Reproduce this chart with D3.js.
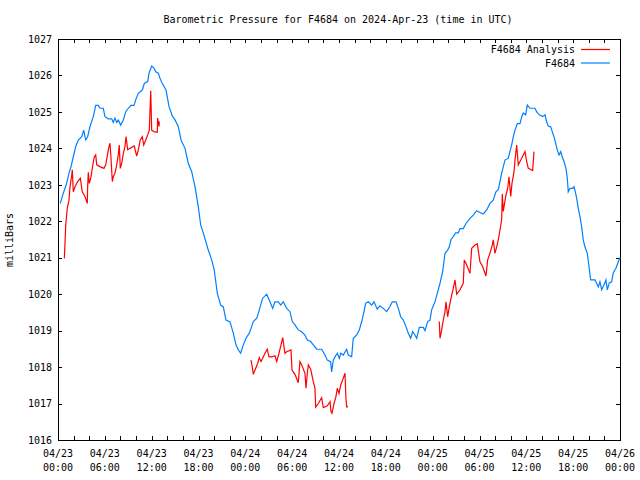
<!DOCTYPE html>
<html>
<head>
<meta charset="utf-8">
<script src="https://cdn.jsdelivr.net/npm/d3@7"></script>
<style>
  html, body { margin: 0; padding: 0; background: #fff; }
  svg { display: block; }
  text { font-family: "DejaVu Sans Mono", "Liberation Mono", monospace; font-size: 10px; fill: #000; }
</style>
</head>
<body>
<svg id="chart" width="640" height="480"></svg>
<script>
// ---- Data (hours since 2024-04-23 00:00 UTC, pressure in mbar) ----
const titleText = "Barometric Pressure for F4684 on 2024-Apr-23 (time in UTC)";
const yLabel = "milliBars";
const seriesNames = ["F4684 Analysis", "F4684"];
const yTicks = [1016,1017,1018,1019,1020,1021,1022,1023,1024,1025,1026,1027];
const xLabelDates = ["04/23","04/23","04/23","04/23","04/24","04/24","04/24","04/24","04/25","04/25","04/25","04/25","04/26"];
const xLabelTimes = ["00:00","06:00","12:00","18:00","00:00","06:00","12:00","18:00","00:00","06:00","12:00","18:00","00:00"];

const blueHours = [0.29,0.68,1.11,1.41,1.67,1.96,2.27,2.60,3.04,3.29,3.55,3.80,4.10,4.52,4.83,5.16,5.38,5.80,6.02,6.44,6.88,7.08,7.30,7.52,7.72,8.03,8.37,8.67,9.01,9.35,9.74,9.95,10.29,10.80,11.06,11.49,11.66,12.00,12.30,12.52,12.85,13.07,13.36,13.84,14.22,14.64,14.99,15.41,15.76,16.27,16.69,17.13,17.55,17.97,18.28,18.70,19.18,19.69,20.02,20.41,20.84,21.18,21.52,22.03,22.46,22.80,23.10,23.40,23.74,24.08,24.51,24.81,25.02,25.46,25.79,26.22,26.74,27.16,27.50,27.80,28.22,28.53,28.86,29.30,29.72,30.02,30.36,30.78,31.22,31.64,31.94,32.37,32.71,33.14,33.78,34.20,34.50,34.93,35.06,35.27,35.49,35.78,36.04,36.22,36.55,36.98,37.19,37.62,37.83,38.27,38.60,38.91,39.11,39.42,39.75,40.19,40.48,40.90,41.25,41.67,42.11,42.53,42.83,43.30,43.60,43.90,44.24,44.58,44.88,45.18,45.44,45.73,45.95,46.29,46.80,47.02,47.36,47.66,47.87,48.30,48.59,48.94,49.28,49.58,49.92,50.13,50.35,50.64,50.95,51.28,51.50,51.92,52.27,52.78,53.20,53.64,54.06,54.48,54.92,55.34,55.76,56.11,56.41,56.62,56.84,57.05,57.26,57.69,57.90,58.12,58.33,58.55,58.84,59.19,59.41,59.61,59.92,60.12,60.47,61.11,61.33,61.66,62.09,62.39,62.60,62.81,63.12,63.32,63.54,63.76,63.96,64.18,64.40,64.60,64.82,65.08,65.25,65.37,65.59,65.94,66.10,66.27,66.45,66.65,66.87,67.09,67.29,67.51,67.81,68.06,68.24,68.79,69.01,69.22,69.43,69.65,69.94,70.20,70.37,70.63,70.93,71.14,71.48,71.78,72.0];
const bluePressure = [1022.49,1022.77,1023.04,1023.32,1023.50,1023.77,1024.05,1024.23,1024.32,1024.50,1024.23,1024.32,1024.60,1024.87,1025.18,1025.18,1025.10,1025.10,1024.87,1024.81,1024.81,1024.71,1024.83,1024.71,1024.78,1024.64,1024.78,1025.00,1025.10,1025.18,1025.18,1025.33,1025.51,1025.60,1025.78,1025.83,1026.06,1026.26,1026.20,1026.10,1026.06,1025.92,1025.78,1025.60,1025.15,1024.89,1024.78,1024.60,1024.23,1024.00,1023.59,1023.36,1022.95,1022.40,1021.90,1021.62,1021.26,1020.94,1020.66,1020.02,1019.70,1019.65,1019.29,1019.24,1018.93,1018.61,1018.47,1018.38,1018.61,1018.79,1018.93,1019.11,1019.25,1019.34,1019.57,1019.89,1020.00,1019.79,1019.61,1019.79,1019.79,1019.70,1019.79,1019.61,1019.52,1019.25,1019.16,1019.02,1018.97,1018.88,1018.74,1018.70,1018.61,1018.49,1018.49,1018.33,1018.19,1018.15,1017.87,1018.19,1018.28,1018.38,1018.24,1018.38,1018.33,1018.49,1018.33,1018.28,1018.79,1018.88,1019.02,1019.25,1019.43,1019.75,1019.79,1019.70,1019.79,1019.59,1019.68,1019.61,1019.52,1019.66,1019.79,1019.79,1019.61,1019.38,1019.29,1019.11,1018.93,1018.79,1018.97,1018.88,1018.79,1019.09,1019.09,1019.00,1019.25,1019.29,1019.57,1019.79,1020.02,1020.30,1020.62,1021.12,1021.21,1021.30,1021.50,1021.58,1021.68,1021.68,1021.80,1021.80,1021.94,1022.08,1022.17,1022.29,1022.24,1022.20,1022.31,1022.49,1022.58,1022.81,1022.87,1023.09,1023.32,1023.50,1023.68,1023.73,1023.91,1024.09,1024.32,1024.50,1024.68,1024.68,1024.87,1024.97,1024.92,1025.19,1025.10,1025.10,1025.00,1024.92,1024.87,1024.92,1024.73,1024.61,1024.59,1024.46,1024.32,1024.14,1023.96,1023.82,1023.91,1023.77,1023.64,1023.45,1023.18,1022.81,1022.90,1022.90,1022.95,1022.81,1022.63,1022.36,1022.13,1021.85,1021.49,1021.30,1021.12,1020.71,1020.39,1020.39,1020.30,1020.20,1020.34,1020.12,1020.25,1020.39,1020.12,1020.31,1020.34,1020.59,1020.71,1020.89,1021.00];

// Analysis series: null entries mark gaps between the three runs
const redHours = [0.81,0.90,0.99,1.19,1.41,1.54,1.76,1.83,1.96,2.18,2.52,2.86,3.11,3.46,3.75,3.80,3.88,4.01,4.23,4.39,4.65,4.83,4.96,5.38,5.89,6.11,6.37,6.53,6.66,6.79,6.96,7.08,7.30,7.52,7.72,7.85,7.98,8.16,8.37,8.58,8.71,8.93,9.22,9.77,10.08,10.29,10.54,10.80,10.98,11.24,11.49,11.70,11.88,12.00,12.30,12.72,12.77,12.94,12.98,
  null,
  24.72,24.89,25.02,25.33,25.58,25.79,26.01,26.22,26.52,26.81,27.03,27.38,27.80,28.02,28.31,28.57,28.79,28.95,29.08,29.30,29.85,29.98,30.36,30.78,31.00,31.22,31.64,31.77,31.94,32.07,32.37,32.71,32.92,33.01,33.35,33.78,33.99,34.50,34.85,34.97,35.10,35.36,35.61,35.78,36.00,36.22,36.47,36.77,36.89,36.98,37.15,
  null,
  48.85,48.94,49.15,49.36,49.58,49.71,49.92,50.13,50.44,50.64,50.86,51.08,51.50,51.92,52.05,52.36,52.78,53.00,53.42,53.72,54.06,54.41,54.83,55.05,55.34,55.64,55.76,55.98,56.20,56.41,56.62,56.84,56.92,57.05,57.18,57.39,57.61,57.78,58.00,58.16,58.42,58.55,58.76,58.97,59.19,59.41,59.61,59.83,60.04,60.25,60.56,60.81,60.98];
const redPressure = [1020.98,1021.40,1021.90,1022.36,1022.58,1022.95,1023.27,1023.41,1022.81,1022.95,1023.09,1023.18,1022.81,1022.68,1022.49,1022.95,1023.34,1023.04,1023.22,1023.45,1023.77,1023.82,1023.55,1023.50,1023.45,1023.55,1023.86,1024.05,1024.14,1023.73,1023.09,1023.22,1023.32,1023.55,1023.82,1024.09,1023.45,1023.59,1023.86,1024.05,1024.32,1023.96,1024.00,1024.07,1023.79,1023.96,1024.23,1024.32,1024.09,1024.23,1024.37,1024.50,1025.58,1024.50,1024.46,1024.44,1024.83,1024.60,1024.74,
  null,
  1018.19,1018.01,1017.80,1017.97,1018.10,1018.26,1018.15,1018.24,1018.38,1018.49,1018.28,1018.28,1018.31,1018.15,1018.38,1018.61,1018.81,1018.56,1018.38,1018.42,1018.47,1017.92,1017.80,1017.57,1018.15,1018.06,1017.83,1017.42,1017.83,1018.06,1017.94,1017.60,1017.42,1016.90,1017.00,1017.16,1016.89,1016.94,1017.05,1016.78,1016.73,1017.00,1017.19,1017.42,1017.28,1017.51,1017.65,1017.83,1017.14,1016.91,1016.91,
  null,
  1019.25,1018.79,1019.02,1019.29,1019.52,1019.79,1019.38,1019.65,1019.98,1020.16,1020.39,1020.00,1020.12,1020.30,1020.94,1020.80,1020.57,1021.26,1021.35,1021.38,1020.89,1020.75,1020.50,1020.94,1021.12,1021.35,1021.49,1021.12,1021.30,1021.49,1021.76,1022.04,1022.75,1022.27,1022.45,1022.72,1022.90,1023.22,1022.68,1023.04,1023.36,1023.68,1024.09,1023.55,1023.64,1023.73,1023.82,1023.91,1023.64,1023.45,1023.42,1023.39,1023.91];

const colors = { analysis: "#ff0000", obs: "#0080ff" };

// ---- Build ----
const base = Date.UTC(2024, 3, 23, 0, 0, 0);
const toDate = h => new Date(base + h * 3600e3);

const svg = d3.select("#chart");
const L = 58, R = 620, T = 39, B = 440;

const x = d3.scaleUtc().domain([toDate(0), toDate(72)]).range([L, R]);
const y = d3.scaleLinear().domain([1016, 1027]).range([B, T]);

const blue = blueHours.map((h, i) => ({ t: toDate(h), v: bluePressure[i] }));
const red = redHours.map((h, i) => (h === null ? null : { t: toDate(h), v: redPressure[i] }));

const minorTicks = d3.range(0, 73, 2).map(toDate);
const majorTicks = d3.range(0, 73, 6).map(toDate);

// title
svg.append("text").attr("x", 338).attr("y", 23).attr("text-anchor", "middle").text(titleText);

// y label
svg.append("text").attr("transform", "translate(13,240) rotate(-90)").attr("text-anchor", "middle").text(yLabel);

// Axes (ticks inward)
const gB = svg.append("g").attr("transform", `translate(0,${B})`)
  .call(d3.axisBottom(x).tickValues(minorTicks).tickSize(-4).tickFormat(""));
const gT = svg.append("g").attr("transform", `translate(0,${T})`)
  .call(d3.axisTop(x).tickValues(minorTicks).tickSize(-4).tickFormat(""));
const gL = svg.append("g").attr("transform", `translate(${L},0)`)
  .call(d3.axisLeft(y).tickValues(yTicks).tickSize(-4).tickPadding(6).tickFormat(d3.format("d")));
const gR = svg.append("g").attr("transform", `translate(${R},0)`)
  .call(d3.axisRight(y).tickValues(yTicks).tickSize(-4).tickFormat(""));
[gB, gT, gL, gR].forEach(g => {
  g.select(".domain").remove();
  g.selectAll("line").attr("stroke", "#000").attr("shape-rendering", "crispEdges");
  g.selectAll("text").style("font-family", "DejaVu Sans Mono, Liberation Mono, monospace").style("font-size", "10px");
});

// x labels (two lines)
const xl = svg.append("g");
majorTicks.forEach((d, i) => {
  xl.append("text").attr("x", x(d)).attr("y", 457).attr("text-anchor", "middle").text(xLabelDates[i]);
  xl.append("text").attr("x", x(d)).attr("y", 471).attr("text-anchor", "middle").text(xLabelTimes[i]);
});

// frame
svg.append("rect").attr("x", L + 0.5).attr("y", T + 0.5).attr("width", R - L).attr("height", B - T)
  .attr("fill", "none").attr("stroke", "#000").attr("stroke-width", 1).attr("shape-rendering", "crispEdges");

// lines
const line = d3.line().defined(d => d !== null).x(d => x(d.t)).y(d => y(d.v));
svg.append("path").datum(blue).attr("fill", "none").attr("stroke", colors.obs).attr("stroke-width", 1.2).attr("d", line);
svg.append("path").datum(red).attr("fill", "none").attr("stroke", colors.analysis).attr("stroke-width", 1.2).attr("d", line);

// legend
const legend = [
  { name: seriesNames[0], color: colors.analysis, yy: 49.5 },
  { name: seriesNames[1], color: colors.obs, yy: 63 }
];
legend.forEach(l => {
  svg.append("text").attr("x", 575).attr("y", l.yy + 3.5).attr("text-anchor", "end").text(l.name);
  svg.append("line").attr("x1", 581).attr("x2", 610).attr("y1", l.yy).attr("y2", l.yy)
    .attr("stroke", l.color).attr("stroke-width", 1.2);
});
</script>
</body>
</html>
